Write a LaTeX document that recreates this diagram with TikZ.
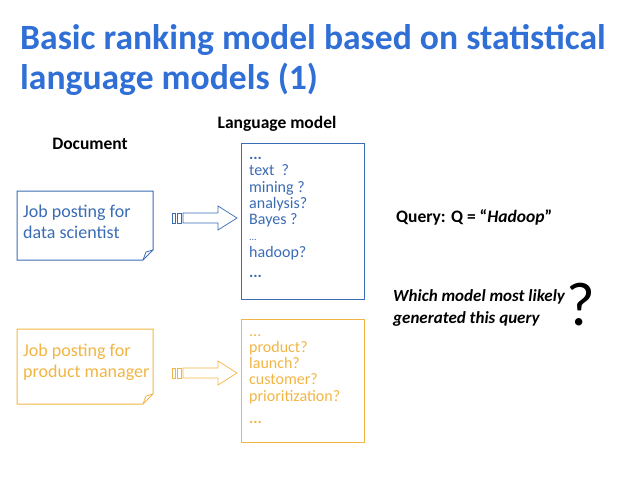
\documentclass[tikz,border=0pt]{standalone}
\usepackage{fontspec}
\setmainfont{Carlito}
\definecolor{tblue}{HTML}{2F6FD6}
\definecolor{bblue}{HTML}{3A6BB5}
\definecolor{orng}{HTML}{F2B544}
\begin{document}
\begin{tikzpicture}[x=1pt,y=-1pt,
  docbox/.style={draw,line width=1pt},
  body/.style={font=\fontsize{18}{21}\selectfont,anchor=north west,align=left,inner sep=0pt},
  lbl/.style={font=\bfseries\fontsize{17.5}{20}\selectfont,inner sep=0pt}]
\useasboundingbox (0,0) rectangle (638,479);
\node[anchor=north west,inner sep=0pt,text=tblue,font=\bfseries\fontsize{35.6}{40}\selectfont,align=left] (title) at (20,24) {Basic ranking model based on statistical\\language models (1)};
\node[lbl] (doc) at (90,144) {Document};
\node[lbl] (lm) at (277,124) {Language model};
% blue doc
\draw[docbox,bblue] (17,191) -- (153,191) -- (153,250) -- (143,260) -- (17,260) -- cycle;
\draw[bblue,line width=0.8pt] (153,250) -- (146,252) -- (143,260);
\node[body,text=bblue] (d1) at (23,205) {Job posting for\\data scientist};
% orange doc
\draw[docbox,orng] (17,329) -- (153,329) -- (153,394) -- (143,404) -- (17,404) -- cycle;
\draw[orng,line width=0.8pt] (153,394) -- (146,396) -- (143,404);
\node[body,text=orng] (d2) at (23,344) {Job posting for\\product manager};
% LM boxes
\node[draw=bblue,line width=1pt,minimum width=123pt,minimum height=156pt,anchor=north west] (lm1) at (241,143) {};
\node[body,text=bblue,font=\fontsize{16}{16.3}\selectfont] (w1) at (249,157) {\textbf{...}\\text\ \ ?\\mining ?\\analysis?\\Bayes ?\\{\fontsize{10}{10}\selectfont ...}\\hadoop?\\[4pt]\textbf{...}};
\node[draw=orng,line width=1pt,minimum width=123pt,minimum height=123pt,anchor=north west] (lm2) at (241,319) {};
\node[body,text=orng,font=\fontsize{16}{16.3}\selectfont] (w2) at (249,334) {...\\product?\\launch?\\customer?\\prioritization?\\[6pt]\textbf{...}};
% arrows
\foreach \yy/\cc in {218/bblue,373/orng}{
  \draw[\cc,line width=0.7pt] (172,\yy-5) rectangle (175,\yy+5);
  \draw[\cc,line width=0.7pt] (177,\yy-5) rectangle (181,\yy+5);
  \draw[\cc,line width=0.7pt] (183,\yy-5) -- (218,\yy-5) -- (218,\yy-12) -- (237,\yy) -- (218,\yy+12) -- (218,\yy+5) -- (183,\yy+5) -- cycle;
}
\node[anchor=west,inner sep=0pt,font=\bfseries\fontsize{17.5}{20}\selectfont] (q) at (396,217) {Query: Q = ``\textit{Hadoop}''};
\node[anchor=north west,inner sep=0pt,align=left,font=\bfseries\itshape\fontsize{17}{22}\selectfont] (wm) at (393,289) {Which model most likely\\generated this query};
\node[anchor=west,inner sep=0pt,font=\fontsize{62}{62}\selectfont] (qm) at (566,305) {?};
\end{tikzpicture}
\end{document}
